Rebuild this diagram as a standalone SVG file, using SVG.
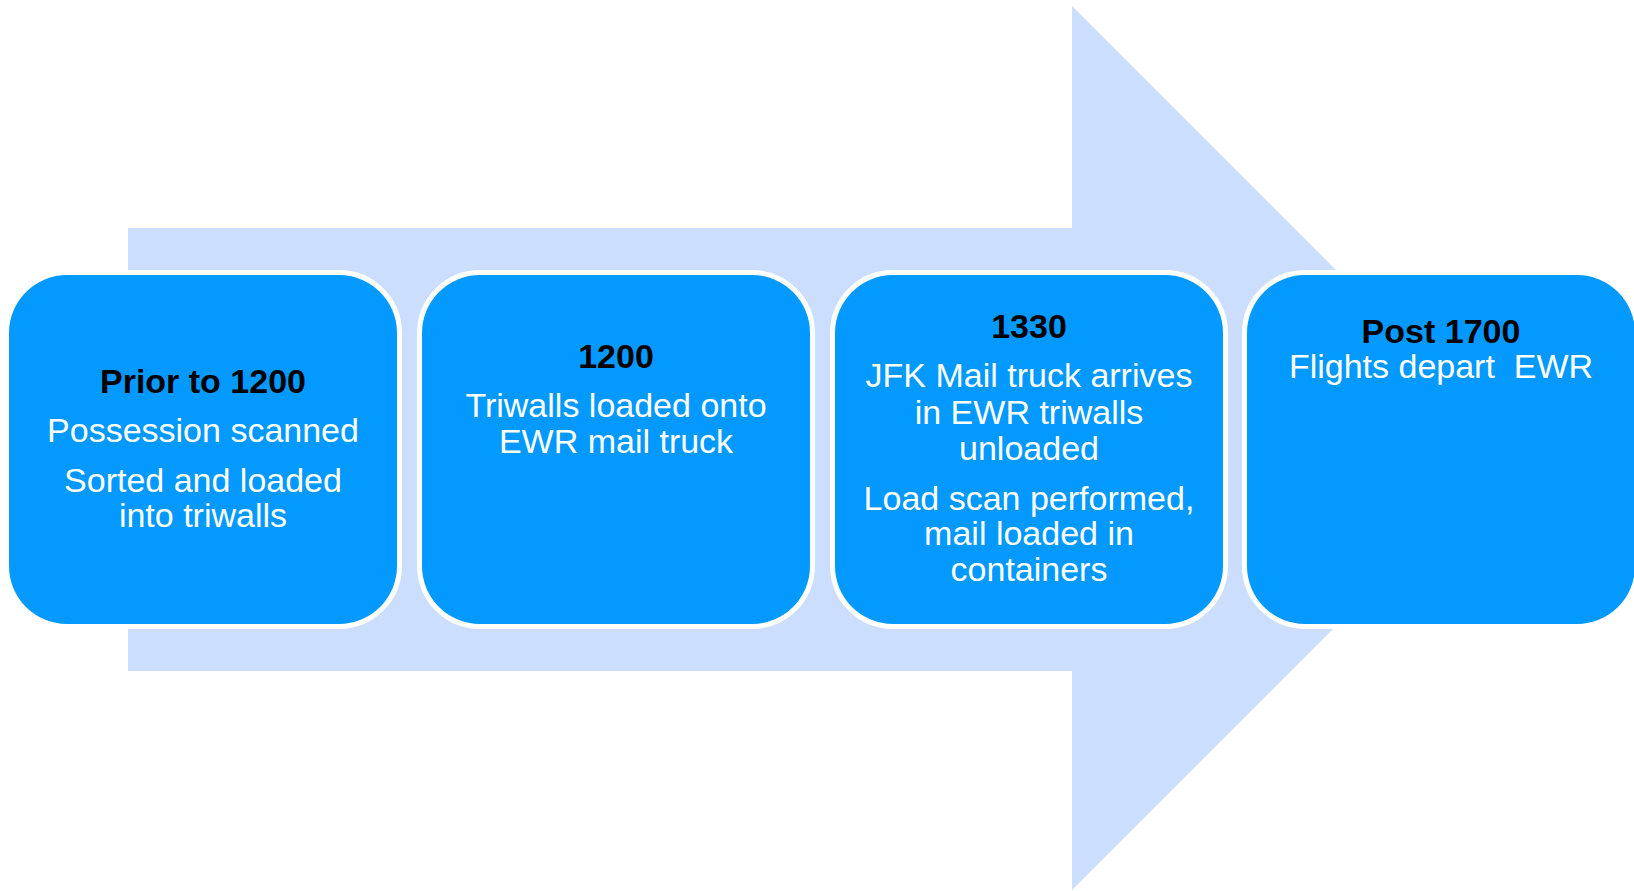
<svg xmlns="http://www.w3.org/2000/svg" width="1634" height="891" viewBox="0 0 1634 891">
<style>
.box{fill:#0399FF;stroke:#FFFFFF;stroke-width:10;paint-order:stroke}
.t{font-family:"Liberation Sans",Arial,sans-serif;font-size:34px;text-anchor:middle}
.h{font-weight:bold;fill:#000000}
.b{fill:#FFFFFF}
</style>
<rect width="1634" height="891" fill="#FFFFFF"/>
<g id="arrow">
<polygon points="128,228 1072,228 1072,6 1514,448 1072,890 1072,671 128,671" fill="#CCDEFE"/>
</g>
<g id="connectors"></g>
<g id="node1">
<rect class="box" x="9" y="275" width="388" height="349" rx="58" ry="58"/>
<text class="t h" x="203" y="393">Prior to 1200</text>
<text class="t b" x="203" y="442">Possession scanned</text>
<text class="t b" x="203" y="492">Sorted and loaded</text>
<text class="t b" x="203" y="527">into triwalls</text>
</g>
<g id="node2">
<rect class="box" x="422" y="275" width="388" height="349" rx="58" ry="58"/>
<text class="t h" x="616" y="368">1200</text>
<text class="t b" x="616" y="417">Triwalls loaded onto</text>
<text class="t b" x="616" y="453">EWR mail truck</text>
</g>
<g id="node3">
<rect class="box" x="835" y="275" width="388" height="349" rx="58" ry="58"/>
<text class="t h" x="1029" y="338">1330</text>
<text class="t b" x="1029" y="387">JFK Mail truck arrives</text>
<text class="t b" x="1029" y="424">in EWR triwalls</text>
<text class="t b" x="1029" y="460">unloaded</text>
<text class="t b" x="1029" y="510">Load scan performed,</text>
<text class="t b" x="1029" y="545">mail loaded in</text>
<text class="t b" x="1029" y="581">containers</text>
</g>
<g id="node4">
<rect class="box" x="1247" y="275" width="388" height="349" rx="58" ry="58"/>
<text class="t h" x="1441" y="343">Post 1700</text>
<text class="t b" x="1441" y="378" style="white-space:pre">Flights depart  EWR</text>
</g>
</svg>
